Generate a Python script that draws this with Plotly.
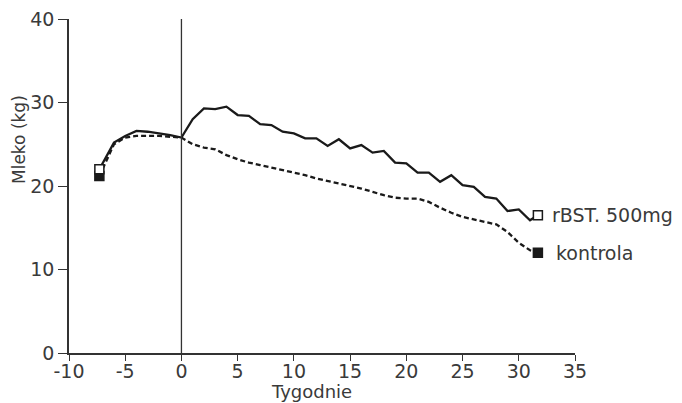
import plotly.graph_objects as go

weeks = [-7.3, -6, -5, -4, -3, -2, -1, 0, 1, 2, 3, 4, 5, 6, 7, 8, 9, 10, 11, 12,
         13, 14, 15, 16, 17, 18, 19, 20, 21, 22, 23, 24, 25, 26, 27, 28, 29, 30, 31, 31.7]

rbst = [22.0, 25.2, 26.0, 26.6, 26.5, 26.3, 26.1, 25.8, 28.0, 29.3, 29.2, 29.5, 28.5, 28.4,
        27.4, 27.3, 26.5, 26.3, 25.7, 25.7, 24.8, 25.6, 24.5, 24.9, 24.0, 24.2, 22.8, 22.7,
        21.6, 21.6, 20.5, 21.3, 20.1, 19.9, 18.7, 18.5, 17.0, 17.2, 15.9, 16.5]

kontrola = [21.2, 25.0, 25.8, 26.0, 26.0, 26.0, 25.9, 25.8, 25.0, 24.6, 24.4, 23.7, 23.2, 22.8,
            22.5, 22.2, 21.9, 21.6, 21.3, 20.9, 20.6, 20.3, 20.0, 19.7, 19.3, 18.9, 18.6, 18.5,
            18.5, 18.1, 17.4, 16.8, 16.3, 16.0, 15.7, 15.4, 14.5, 13.2, 12.3, 12.0]

x_ticks = [-10, -5, 0, 5, 10, 15, 20, 25, 30, 35]
y_ticks = [0, 10, 20, 30, 40]
series_labels = ["rBST. 500mg", "kontrola"]

FONT = "DejaVu Sans"
TXT = "#3a3a3a"
INK = "#1a1a1a"
FS = 19

fig = go.Figure()

fig.add_trace(go.Scatter(x=weeks, y=kontrola, mode="lines",
                         line=dict(color=INK, width=2.3, dash="5px,3px"),
                         showlegend=False, hoverinfo="skip"))
fig.add_trace(go.Scatter(x=weeks, y=rbst, mode="lines",
                         line=dict(color=INK, width=2.3),
                         showlegend=False, hoverinfo="skip"))

# end markers
fig.add_trace(go.Scatter(x=[weeks[0], weeks[-1]], y=[kontrola[0], kontrola[-1]], mode="markers",
                         marker=dict(symbol="square", size=9, color=INK,
                                     line=dict(color=INK, width=1.5)),
                         showlegend=False, hoverinfo="skip"))
fig.add_trace(go.Scatter(x=[weeks[0], weeks[-1]], y=[rbst[0], rbst[-1]], mode="markers",
                         marker=dict(symbol="square", size=9, color="white",
                                     line=dict(color=INK, width=1.5)),
                         showlegend=False, hoverinfo="skip"))

# vertical line at week 0
fig.add_shape(type="line", x0=0, x1=0, y0=0, y1=40.5, xref="x", yref="y",
              line=dict(color="#333333", width=1.3))

# series labels
fig.add_annotation(x=weeks[-1], y=rbst[-1], text=series_labels[0], showarrow=False,
                   xanchor="left", yanchor="middle", xshift=12,
                   font=dict(family=FONT, size=FS, color=TXT))
fig.add_annotation(x=weeks[-1], y=kontrola[-1], text=series_labels[1], showarrow=False,
                   xanchor="left", yanchor="middle", xshift=16,
                   font=dict(family=FONT, size=FS, color=TXT))

# axis titles
fig.add_annotation(xref="paper", yref="paper", x=0.5, y=0, text="Tygodnie", showarrow=False,
                   xanchor="center", yanchor="middle", xshift=-11, yshift=-38,
                   font=dict(family=FONT, size=18, color=TXT))
fig.add_annotation(xref="paper", yref="paper", x=0, y=0.5, text="Mleko (kg)", showarrow=False,
                   textangle=-90, xanchor="center", yanchor="middle", xshift=-50, yshift=46,
                   font=dict(family=FONT, size=17, color=TXT))

fig.update_xaxes(range=[-10, 35], tickvals=x_ticks, ticktext=[str(v) for v in x_ticks],
                 showgrid=False, zeroline=False, showline=True, linecolor="#333333", linewidth=1.5,
                 ticks="outside", ticklen=6, tickwidth=1.3, tickcolor="#333333",
                 ticklabelstandoff=-6, ticklabeloverflow="allow",
                 tickfont=dict(family=FONT, size=FS, color=TXT), automargin=False)
fig.update_yaxes(range=[0, 40], tickvals=y_ticks, ticktext=[str(v) for v in y_ticks],
                 showgrid=False, zeroline=False, showline=True, linecolor="#333333", linewidth=1.5,
                 ticks="outside", ticklen=9, tickwidth=1.3, tickcolor="#333333",
                 ticklabeloverflow="allow",
                 tickfont=dict(family=FONT, size=FS, color=TXT), automargin=False)

# page body has an 8px margin: size the figure so the plot lands where the reference has it
fig.update_layout(width=666, height=395, margin=dict(l=61, r=99, t=11, b=50),
                  paper_bgcolor="white", plot_bgcolor="white", showlegend=False)

fig.write_html("out.html")
